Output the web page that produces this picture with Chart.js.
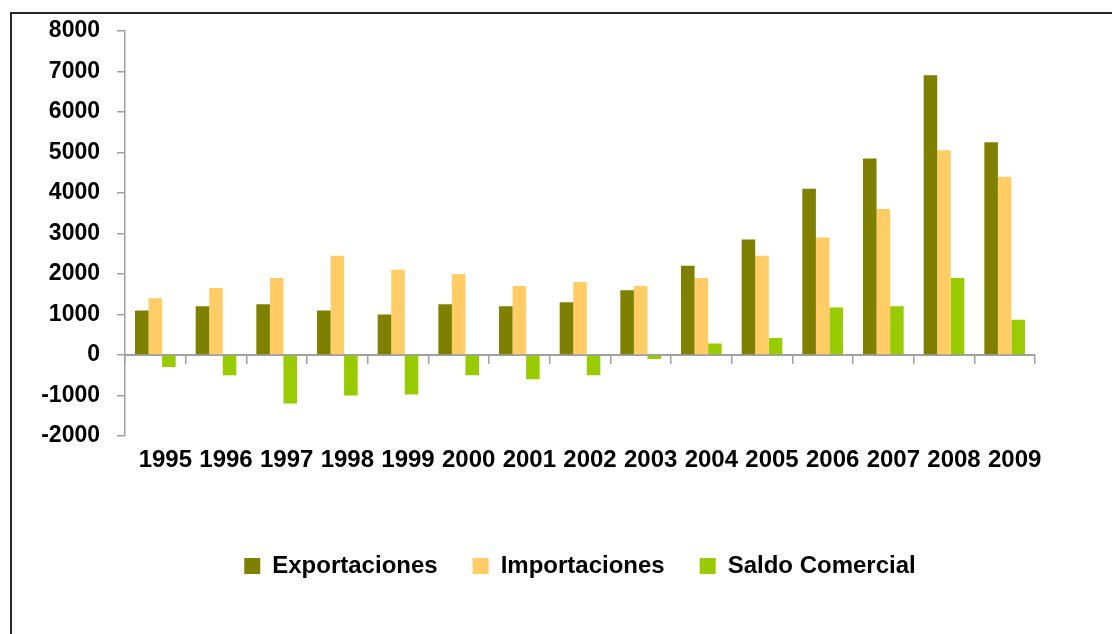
<!DOCTYPE html>
<html>
<head>
<meta charset="utf-8">
<script src="https://cdn.jsdelivr.net/npm/chart.js@4.4.0/dist/chart.umd.min.js"></script>
<style>
  body { margin: 0; background: #fff; overflow: hidden; }
  #frame { position: absolute; left: 10px; top: 12px; width: 1200px; height: 700px; border-left: 2px solid #262626; border-top: 2px solid #262626; }
  #chart { position: absolute; left: 0; top: 0; }
</style>
</head>
<body>
<div id="frame"></div>
<canvas id="chart" width="1112" height="634"></canvas>
<script>
const years = ['1995', '1996', '1997', '1998', '1999', '2000', '2001', '2002', '2003', '2004', '2005', '2006', '2007', '2008', '2009']
const exportaciones = [1100, 1200, 1250, 1100, 1000, 1250, 1200, 1300, 1600, 2200, 2850, 4100, 4850, 6900, 5250]
const importaciones = [1400, 1650, 1900, 2450, 2100, 2000, 1700, 1800, 1700, 1900, 2450, 2900, 3600, 5050, 4400]
const saldoComercial = [-300, -500, -1200, -1000, -975, -500, -600, -500, -100, 280, 420, 1170, 1200, 1900, 870]

const axisGray = '#a0a0a0'
const fontFamily = '"Liberation Sans", Arial, sans-serif'

const ctx = document.getElementById('chart').getContext('2d')
new Chart(ctx, {
  type: 'bar',
  data: {
    labels: years,
    datasets: [
      { label: 'Exportaciones', data: exportaciones, backgroundColor: '#808000' },
      { label: 'Importaciones', data: importaciones, backgroundColor: '#FFCC66' },
      { label: 'Saldo Comercial', data: saldoComercial, backgroundColor: '#99CC00' },
    ],
  },
  options: {
    responsive: false,
    animation: false,
    categoryPercentage: 0.67,
    barPercentage: 1,
    layout: { padding: { top: 30, left: 0, right: 77, bottom: 46 } },
    plugins: {
      tooltip: { enabled: false },
      legend: {
        position: 'bottom',
        fullSize: false,
        labels: {
          color: '#000',
          boxWidth: 16,
          boxHeight: 16,
          padding: 35,
          font: { family: fontFamily, size: 24, weight: 'bold' },
        },
      },
    },
    scales: {
      // axis line sits on zero, the year labels go below on x2
      x: {
        type: 'category',
        position: { y: 0 },
        z: 1,
        offset: true,
        grid: { offset: true, drawOnChartArea: false, drawTicks: true, tickLength: 8, color: axisGray, lineWidth: 1.5 },
        border: { color: axisGray, width: 2 },
        ticks: { display: false },
      },
      x2: {
        type: 'category',
        position: 'bottom',
        labels: years,
        offset: true,
        grid: { display: false, drawTicks: false },
        border: { display: false },
        ticks: { color: '#000', font: { family: fontFamily, size: 24, weight: 'bold' }, padding: 10, labelOffset: 10, maxRotation: 0, autoSkip: false },
        afterFit: (scale) => { scale.height = 83 },
      },
      y: {
        min: -2000,
        max: 8000,
        grid: { drawOnChartArea: false, drawTicks: true, tickLength: 8, color: axisGray, lineWidth: 1.5 },
        border: { color: axisGray, width: 1.5 },
        ticks: { stepSize: 1000, color: '#000', font: { family: fontFamily, size: 23, weight: 'bold' }, padding: 17, callback: (v) => String(v) },
        afterFit: (scale) => { scale.width = 125 },
      },
    },
  },
})
</script>
</body>
</html>
